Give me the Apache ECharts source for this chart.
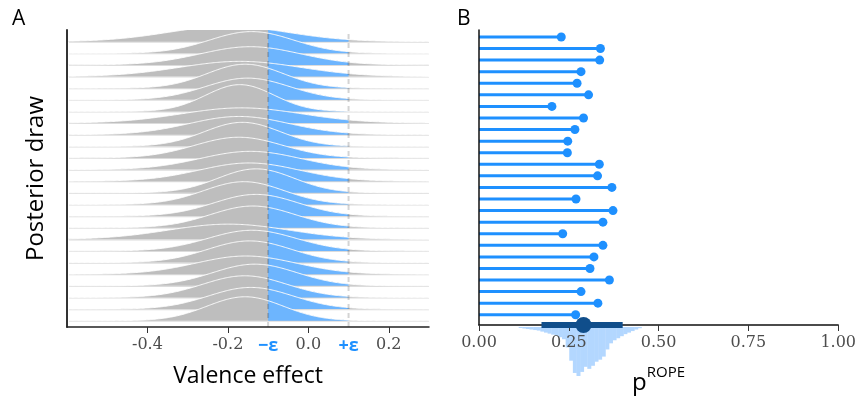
<!DOCTYPE html>
<html><head><meta charset="utf-8">
<script src="https://cdn.jsdelivr.net/npm/echarts@6/dist/echarts.min.js"></script>
<style>html,body{margin:0;padding:0;background:#fff}#c{width:859px;height:400px}</style>
</head><body><div id="c"></div>
<script>
// ---- Panel A: posterior draws (top row first), each a normal density ----
const drawMeans = [-0.200,-0.141,-0.144,-0.170,-0.157,-0.151,-0.170,-0.166,-0.172,-0.164,-0.173,-0.144,-0.147,
                   -0.130,-0.160,-0.130,-0.138,-0.198,-0.140,-0.146,-0.155,-0.133,-0.158,-0.143,-0.157];
const drawSDs   = [0.150,0.105,0.125,0.150,0.095,0.105,0.085,0.150,0.125,0.095,0.110,0.125,0.125,
                   0.095,0.100,0.105,0.105,0.150,0.110,0.105,0.125,0.105,0.105,0.105,0.095];
const ropeBounds = [-0.1, 0.1];
const ropeLabels = ['−ε', '+ε'];
const xTicksA = [-0.4, -0.2, 0.0, 0.2];

// ---- Panel B: p(ROPE) per draw (top row first) ----
const pRope = [0.229,0.338,0.336,0.284,0.273,0.305,0.203,0.291,0.267,0.247,0.246,0.335,0.330,
               0.370,0.270,0.373,0.345,0.233,0.345,0.320,0.309,0.363,0.284,0.331,0.269];
const xTicksB = [0, 0.25, 0.5, 0.75, 1];
const pRopeInterval = [0.174, 0.291, 0.400]; // lower, median, upper
const histBinStart = [0.11,0.12,0.13,0.14,0.15,0.16,0.17,0.18,0.19,0.20,0.21,0.22,0.23,0.24,0.25,0.26,0.27,
                      0.28,0.29,0.30,0.31,0.32,0.33,0.34,0.35,0.36,0.37,0.38,0.39,0.40,0.41,0.42,0.43,0.44];
const histCounts   = [1,1.5,2,2.5,3,3.5,4.5,5.5,6.5,7.5,8.5,10,12,20,33,45,48,
                      44,39,41,38,34,32,29,22,16,13,11,9,7,5.5,4,2.5,1.2];
const histBinWidth = 0.01;

const N = drawMeans.length;
const XMIN_A = -0.6, XMAX_A = 0.3;
const YMIN_A = 0.458, YMAX_A = 26.0;
const YMIN_B = 0.116, YMAX_B = 25.6;
const RIDGE_SCALE = 0.49;
const GRAY = '#bebebe', BLUE = '#6db5fe', DODGER = '#1e90ff', DARK = '#104e8b', LIGHT = '#b3d7ff';
const SANS = '"Open Sans", "Noto Sans", sans-serif';
const SERIF = '"DejaVu Serif", serif';

function pdf(x, m, s) { const z = (x - m) / s; return Math.exp(-0.5 * z * z) / (s * Math.sqrt(2 * Math.PI)); }

const ridgeData = drawMeans.map((m, i) => [N - i, m, drawSDs[i]]);
const lolliData = pRope.map((p, i) => [p, N - i]);
const histData = histBinStart.map((b, i) => [b, histCounts[i]]);

const chart = echarts.init(document.getElementById('c'), null, {renderer: 'canvas'});
chart.setOption({
  animation: false,
  backgroundColor: '#fff',
  title: [
    {text: 'A', left: 12, top: 9, padding: 0, textStyle: {fontFamily: SANS, fontSize: 21, fontWeight: 'normal', color: '#000'}},
    {text: 'B', left: 457, top: 9, padding: 0, textStyle: {fontFamily: SANS, fontSize: 21, fontWeight: 'normal', color: '#000'}}
  ],
  grid: [
    {left: 67, top: 30, width: 362, height: 297},
    {left: 479, top: 30, width: 361, height: 297},
    {left: 479, top: 327, width: 361, height: 49}
  ],
  xAxis: [
    {gridIndex: 0, type: 'value', min: XMIN_A, max: XMAX_A, splitLine: {show: false}, z: 5,
     axisLine: {show: true, onZero: false, lineStyle: {color: '#222', width: 1.5}},
     axisTick: {show: true, length: 6, customValues: xTicksA, lineStyle: {color: '#333', width: 1}},
     axisLabel: {customValues: xTicksA.concat(ropeBounds), margin: 10, fontFamily: SERIF, fontSize: 16, color: '#4d4d4d',
       formatter: v => {
         const k = ropeBounds.findIndex(b => Math.abs(b - v) < 1e-9);
         if (k >= 0) return '{eps|' + ropeLabels[k] + '}';
         return v.toFixed(1);
       },
       rich: {eps: {fontFamily: SANS, fontSize: 18, fontWeight: 'bold', color: DODGER}}},
     name: 'Valence effect', nameLocation: 'middle', nameGap: 38,
     nameTextStyle: {fontFamily: SANS, fontSize: 23, color: '#000'}},
    {gridIndex: 1, type: 'value', min: 0, max: 1, interval: 0.25, splitLine: {show: false}, z: 5,
     axisLine: {show: true, onZero: false, lineStyle: {color: '#111', width: 1.5}},
     axisTick: {show: true, length: 6, lineStyle: {color: '#333', width: 1}},
     axisLabel: {margin: 10, fontFamily: SERIF, fontSize: 16, color: '#4d4d4d', formatter: v => v.toFixed(2)},
     name: '{p|p}{s|ROPE}', nameLocation: 'middle', nameGap: 40,
     nameTextStyle: {rich: {p: {fontFamily: SANS, fontSize: 24, color: '#000', verticalAlign: 'bottom', lineHeight: 30},
                            s: {fontFamily: SANS, fontSize: 15, color: '#000', verticalAlign: 'top', lineHeight: 30}}}},
    {gridIndex: 2, type: 'value', min: 0, max: 1, show: false}
  ],
  yAxis: [
    {gridIndex: 0, type: 'value', min: YMIN_A, max: YMAX_A, splitLine: {show: false}, z: 5,
     axisLine: {show: true, onZero: false, lineStyle: {color: '#333', width: 2}},
     axisTick: {show: false}, axisLabel: {show: false},
     name: 'Posterior draw', nameLocation: 'middle', nameGap: 19,
     nameTextStyle: {fontFamily: SANS, fontSize: 24, color: '#000'}},
    {gridIndex: 1, type: 'value', min: YMIN_B, max: YMAX_B, splitLine: {show: false}, z: 5,
     axisLine: {show: true, onZero: false, lineStyle: {color: '#111', width: 1.5}},
     axisTick: {show: false}, axisLabel: {show: false}},
    {gridIndex: 2, type: 'value', min: 0, max: 48, inverse: true, show: false}
  ],
  series: [
    {
      type: 'custom', xAxisIndex: 0, yAxisIndex: 0, clip: true, z: 2,
      data: ridgeData,
      renderItem: (params, api) => {
        const base = api.value(0), m = api.value(1), s = api.value(2);
        const NP = 300;
        const top = [];
        for (let k = 0; k <= NP; k++) {
          const x = XMIN_A + (XMAX_A - XMIN_A) * k / NP;
          top.push(api.coord([x, base + pdf(x, m, s) * RIDGE_SCALE]));
        }
        const b0 = api.coord([XMIN_A, base]), b1 = api.coord([XMAX_A, base]);
        const grayPts = [b0].concat(top, [b1]);
        const bluePts = [api.coord([ropeBounds[0], base]), api.coord([ropeBounds[0], base + pdf(ropeBounds[0], m, s) * RIDGE_SCALE])];
        const NB = 80;
        for (let k = 1; k < NB; k++) {
          const x = ropeBounds[0] + (ropeBounds[1] - ropeBounds[0]) * k / NB;
          bluePts.push(api.coord([x, base + pdf(x, m, s) * RIDGE_SCALE]));
        }
        bluePts.push(api.coord([ropeBounds[1], base + pdf(ropeBounds[1], m, s) * RIDGE_SCALE]));
        bluePts.push(api.coord([ropeBounds[1], base]));
        return {type: 'group', children: [
          {type: 'line', shape: {x1: b0[0] + 2, y1: b0[1] + 0.5, x2: b1[0], y2: b1[1] + 0.5}, style: {stroke: '#dcdcdc', lineWidth: 1.2}},
          {type: 'polygon', shape: {points: grayPts}, style: {fill: GRAY}},
          {type: 'polygon', shape: {points: bluePts}, style: {fill: BLUE}},
          {type: 'polyline', shape: {points: top}, style: {stroke: 'rgba(255,255,255,0.9)', lineWidth: 1, fill: null}}
        ]};
      }
    },
    {
      type: 'custom', xAxisIndex: 0, yAxisIndex: 0, clip: true, z: 3,
      data: ropeBounds.map(b => [b]),
      renderItem: (params, api) => {
        const p0 = api.coord([api.value(0), YMIN_A]), p1 = api.coord([api.value(0), YMAX_A]);
        return {type: 'line', shape: {x1: p0[0], y1: p0[1], x2: p1[0], y2: p1[1]},
                style: {stroke: 'rgba(0,0,0,0.17)', lineWidth: 2, lineDash: [5, 4]}};
      }
    },
    {
      type: 'custom', xAxisIndex: 2, yAxisIndex: 2, clip: false, z: 1,
      data: histData,
      renderItem: (params, api) => {
        const a = api.coord([api.value(0), 0]), b = api.coord([api.value(0) + histBinWidth, api.value(1)]);
        return {type: 'rect', shape: {x: a[0], y: a[1], width: b[0] - a[0] + 0.4, height: b[1] - a[1]}, style: {fill: LIGHT}};
      }
    },
    {
      type: 'custom', xAxisIndex: 1, yAxisIndex: 1, clip: false, z: 2,
      data: lolliData,
      renderItem: (params, api) => {
        const a = api.coord([0, api.value(1)]), b = api.coord([api.value(0), api.value(1)]);
        return {type: 'line', shape: {x1: a[0], y1: a[1], x2: b[0], y2: b[1]}, style: {stroke: DODGER, lineWidth: 3}};
      }
    },
    {
      type: 'scatter', xAxisIndex: 1, yAxisIndex: 1, z: 3, symbol: 'circle', symbolSize: 9,
      itemStyle: {color: DODGER, opacity: 1}, data: lolliData
    },
    {
      type: 'custom', xAxisIndex: 1, yAxisIndex: 1, clip: false, z: 10,
      data: [pRopeInterval],
      renderItem: (params, api) => {
        const lo = api.coord([api.value(0), YMIN_B]), md = api.coord([api.value(1), YMIN_B]), hi = api.coord([api.value(2), YMIN_B]);
        return {type: 'group', children: [
          {type: 'line', shape: {x1: lo[0], y1: lo[1], x2: hi[0], y2: hi[1]}, style: {stroke: DARK, lineWidth: 6}},
          {type: 'circle', shape: {cx: md[0], cy: md[1], r: 8}, style: {fill: DARK}}
        ]};
      }
    }
  ]
});
</script></body></html>
